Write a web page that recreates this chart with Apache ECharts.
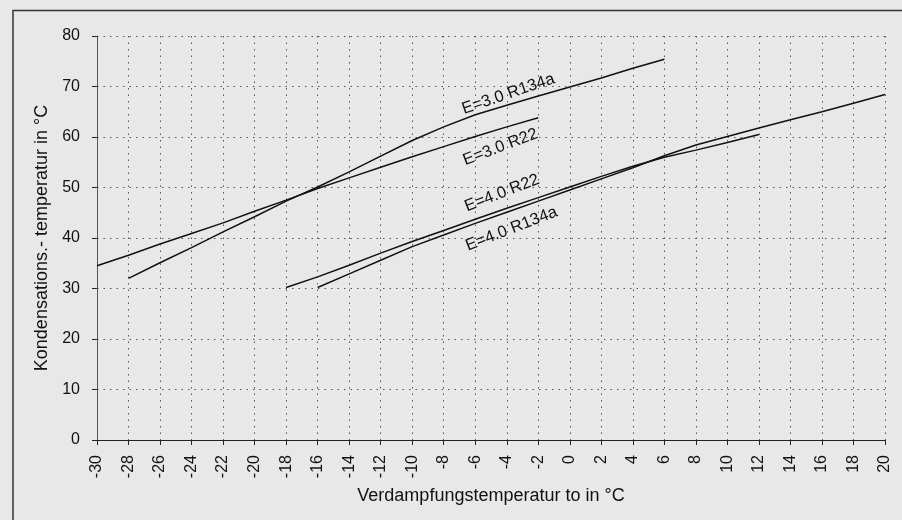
<!DOCTYPE html>
<html>
<head>
<meta charset="utf-8">
<script src="https://cdn.jsdelivr.net/npm/echarts@6/dist/echarts.min.js"></script>
<style>
html,body{margin:0;padding:0;background:#e8e8e8;}
#c{width:902px;height:520px;}
</style>
</head>
<body>
<div id="c"></div>
<script>
// X positions (Verdampfungstemperatur) per series
const x_E30_R22   = [-30,-28,-26,-24,-22,-20,-18,-16,-14,-12,-10,-8,-6,-4,-2];
const y_E30_R22   = [34.5,36.6,38.8,40.9,43.0,45.3,47.5,49.8,51.9,54.0,56.1,58.1,60.1,62.0,63.8];

const x_E30_R134a = [-28,-26,-24,-22,-20,-18,-16,-14,-12,-10,-8,-6,-4,-2,0,2,4,6];
const y_E30_R134a = [32.0,35.1,38.1,41.2,44.2,47.3,50.1,53.1,56.2,59.3,62.0,64.4,66.3,68.1,69.9,71.7,73.6,75.4];

const x_E40_R22   = [-18,-16,-14,-12,-10,-8,-6,-4,-2,0,2,4,6,8,10,12];
const y_E40_R22   = [30.2,32.3,34.6,37.0,39.3,41.5,43.7,45.9,48.0,50.1,52.2,54.2,56.0,57.4,58.9,60.5];

const x_E40_R134a = [-16,-14,-12,-10,-8,-6,-4,-2,0,2,4,6,8,10,12,14,16,18,20];
const y_E40_R134a = [30.2,32.9,35.6,38.3,40.6,42.9,45.1,47.3,49.5,51.7,53.9,56.3,58.4,60.1,61.8,63.4,65.0,66.7,68.4];

const seriesNames = ['E=3.0 R22','E=3.0 R134a','E=4.0 R22','E=4.0 R134a'];
// label anchor points (data coordinates) for the in-plot line labels
const labelAnchors = [[-4.4,58.0],[-3.9,68.5],[-4.3,48.9],[-3.7,41.8]];

const xAxisTitle = 'Verdampfungstemperatur to in °C';
const yAxisTitle = 'Kondensations.- temperatur in °C';

function pairs(xs, ys){ return xs.map((x,i)=>[x, ys[i]]); }

const chart = echarts.init(document.getElementById('c'), null, {renderer:'canvas'});
const FONT = 'Liberation Sans, Arial, sans-serif';
const lineStyle = {color:'#111', width:1.5};
const dataSets = [
  pairs(x_E30_R22, y_E30_R22),
  pairs(x_E30_R134a, y_E30_R134a),
  pairs(x_E40_R22, y_E40_R22),
  pairs(x_E40_R134a, y_E40_R134a)
];

chart.setOption({
  backgroundColor:'#e8e8e8',
  animation:false,
  textStyle:{fontFamily:FONT},
  grid:{left:97, right:17, top:36, bottom:80, containLabel:false},
  xAxis:{
    type:'value', min:-30, max:20, interval:2,
    name:xAxisTitle, nameLocation:'middle', nameGap:47,
    nameTextStyle:{fontFamily:FONT, fontSize:18, color:'#111'},
    axisLine:{show:true, onZero:false, lineStyle:{color:'#222', width:1.2}},
    axisTick:{show:true, length:5, lineStyle:{color:'#222'}},
    axisLabel:{rotate:90, fontSize:16, color:'#111', margin:15, fontFamily:FONT},
    splitLine:{show:true, lineStyle:{color:'#555', width:1, type:[1.5,5]}}
  },
  yAxis:{
    type:'value', min:0, max:80, interval:10,
    name:yAxisTitle, nameLocation:'middle', nameGap:39,
    nameTextStyle:{fontFamily:FONT, fontSize:18, color:'#111'},
    axisLine:{show:true, onZero:false, lineStyle:{color:'#555', width:1}},
    axisTick:{show:true, length:5, lineStyle:{color:'#222'}},
    axisLabel:{fontSize:16, color:'#111', margin:17, fontFamily:FONT},
    splitLine:{show:true, lineStyle:{color:'#555', width:1, type:[1.5,5]}}
  },
  series: dataSets.map((d,i)=>({
    name:seriesNames[i], type:'line', data:d, symbol:'none',
    lineStyle:lineStyle, z:3
  }))
});

const labelAngles = [0.36,0.33,0.37,0.37];
const graphics = [{
  type:'rect', shape:{x:13, y:10.5, width:1000, height:1000},
  style:{fill:null, stroke:'#333', lineWidth:1.5}, z:-1, silent:true
}];
seriesNames.forEach((n,i)=>{
  const p = chart.convertToPixel({gridIndex:0}, labelAnchors[i]);
  graphics.push({
    type:'text', x:p[0], y:p[1], rotation:labelAngles[i], z:10,
    style:{text:n, font:'16.5px '+FONT, fill:'#111', textAlign:'center', textVerticalAlign:'middle'}
  });
});
chart.setOption({graphic:graphics});
</script>
</body>
</html>
